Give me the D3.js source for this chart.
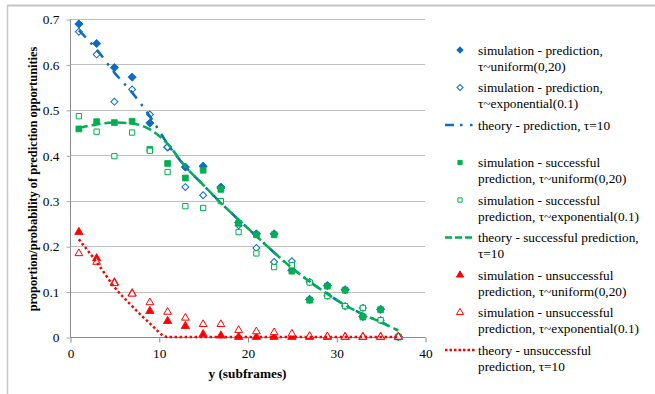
<!DOCTYPE html>
<html>
<head>
<meta charset="utf-8">
<script src="https://cdn.jsdelivr.net/npm/d3@7/dist/d3.min.js"></script>
<style>
  html, body { margin: 0; padding: 0; background: #fff; }
  svg { display: block; }
  text { font-family: "Liberation Serif", "Times New Roman", serif; fill: #000; }
</style>
</head>
<body>
<svg id="chart" width="655" height="394"></svg>
<script>
// Subframe positions where the simulations were sampled
const ySub = [1, 3, 5, 7, 9, 11, 13, 15, 17, 19, 21, 23, 25, 27, 29, 31, 33, 35, 37];

// Simulation results
const predUniform    = [0.689, 0.646, 0.593, 0.572, 0.471, 0.418, 0.374, 0.376, 0.330, 0.252, 0.227, 0.227, 0.147, 0.083, 0.113, 0.104, 0.045, 0.061, 0.001];
const predExp        = [0.672, 0.622, 0.518, 0.545, 0.490, 0.418, 0.330, 0.312, 0.327, 0.246, 0.196, 0.165, 0.167, 0.121, 0.091, 0.068, 0.064, 0.037, 0.001];
const succUniform    = [0.458, 0.474, 0.472, 0.475, 0.413, 0.382, 0.350, 0.367, 0.325, 0.250, 0.225, 0.225, 0.145, 0.081, 0.112, 0.103, 0.044, 0.060, 0.000];
const succExp        = [0.486, 0.452, 0.398, 0.450, 0.410, 0.363, 0.288, 0.284, 0.299, 0.231, 0.184, 0.154, 0.158, 0.120, 0.090, 0.068, 0.064, 0.037, 0.000];
const unsuccUniform  = [0.231, 0.173, 0.120, 0.096, 0.057, 0.035, 0.024, 0.006, 0.003, 0.000, 0.000, 0.000, 0.000, 0.000, 0.000, 0.000, 0.000, 0.000, 0.000];
const unsuccExp      = [0.184, 0.165, 0.118, 0.095, 0.076, 0.055, 0.042, 0.028, 0.028, 0.015, 0.012, 0.010, 0.007, 0.002, 0.001, 0.000, 0.000, 0.000, 0.000];

// Theoretical curves, tau = 10
const theoryPred     = [0.675, 0.633, 0.582, 0.538, 0.486, 0.425, 0.375, 0.335, 0.295, 0.258, 0.222, 0.186, 0.152, 0.122, 0.095, 0.070, 0.050, 0.033, 0.014];
const theorySucc     = [0.460, 0.468, 0.472, 0.470, 0.457, 0.425, 0.375, 0.335, 0.295, 0.258, 0.222, 0.186, 0.152, 0.122, 0.095, 0.070, 0.050, 0.033, 0.014];
const theoryUnsucc   = [0.215, 0.165, 0.110, 0.068, 0.030, 0.000, 0.000, 0.000, 0.000, 0.000, 0.000, 0.000, 0.000, 0.000, 0.000, 0.000, 0.000, 0.000, 0.000];

const xTicks = [0, 10, 20, 30, 40];
const yTicks = [0, 0.1, 0.2, 0.3, 0.4, 0.5, 0.6, 0.7];

const legendLabels = [
  ["simulation - prediction,", "\u03C4~uniform(0,20)"],
  ["simulation - prediction,", "\u03C4~exponential(0.1)"],
  ["theory - prediction, \u03C4=10"],
  ["simulation - successful", "prediction, \u03C4~uniform(0,20)"],
  ["simulation - successful", "prediction, \u03C4~exponential(0.1)"],
  ["theory - successful prediction,", "\u03C4=10"],
  ["simulation - unsuccessful", "prediction, \u03C4~uniform(0,20)"],
  ["simulation - unsuccessful", "prediction, \u03C4~exponential(0.1)"],
  ["theory - unsuccessful", "prediction, \u03C4=10"]
];

const BLUE = "#0a6cc4", GREEN = "#00b050", RED = "#ff0000";
const SERIF = "Liberation Serif, Times New Roman, serif";

const svg = d3.select("#chart");

// Outer chart frame (top and left edges)
svg.append("line").attr("x1", 7).attr("x2", 655).attr("y1", 5.5).attr("y2", 5.5)
  .attr("stroke", "#c4c4c4").attr("stroke-width", 2);
svg.append("line").attr("x1", 7.5).attr("x2", 7.5).attr("y1", 5).attr("y2", 394)
  .attr("stroke", "#c8c8c8").attr("stroke-width", 1.5);

const x = d3.scaleLinear().domain([0, 40]).range([70, 425]);
const y = d3.scaleLinear().domain([0, 0.7]).range([337, 19]);

// Horizontal gridlines
svg.append("g").selectAll("line").data(yTicks.filter(d => d > 0)).join("line")
  .attr("x1", x(0)).attr("x2", x(40))
  .attr("y1", d => Math.round(y(d)) + 0.5).attr("y2", d => Math.round(y(d)) + 0.5)
  .attr("stroke", "#bfbfbf").attr("stroke-width", 1);

// Y axis
const yAxis = svg.append("g").attr("transform", `translate(${x(0) + 0.5},0.5)`)
  .call(d3.axisLeft(y).tickValues(yTicks).tickSize(4).tickPadding(7)
    .tickFormat(d => d === 0 ? "0" : d3.format(".1f")(d)));
yAxis.select(".domain").attr("stroke", "#8c8c8c").attr("d", `M0,${y(0.7)}V${y(0)}`);
yAxis.selectAll(".tick line").attr("stroke", "#a6a6a6");
yAxis.selectAll(".tick text").attr("font-size", "13.33px")
  .attr("font-family", SERIF).attr("fill", "#000");

// X axis
const xAxis = svg.append("g").attr("transform", `translate(0.5,${y(0) + 0.5})`)
  .call(d3.axisBottom(x).tickValues(xTicks).tickSize(5).tickPadding(6));
xAxis.select(".domain").attr("stroke", "#8c8c8c").attr("d", `M${x(0)},0H${x(40)}`);
xAxis.selectAll(".tick line").attr("stroke", "#8c8c8c");
xAxis.selectAll(".tick text").attr("font-size", "13.33px")
  .attr("font-family", SERIF).attr("fill", "#000");

// Axis titles
svg.append("text").attr("x", (x(0) + x(40)) / 2).attr("y", 378)
  .attr("text-anchor", "middle").attr("font-size", "13.33px").attr("font-weight", "bold")
  .text("y (subframes)");
svg.append("text").attr("transform", `translate(37,${(y(0) + y(0.7)) / 2 + 1}) rotate(-90)`)
  .attr("text-anchor", "middle").attr("font-size", "12.4px").attr("font-weight", "bold")
  .text("proportion/probability of prediction opportunities");

// Marker drawing helpers
const shapes = {
  diamond: { type: d3.symbolSquare, rotate: 45 },
  square: { type: d3.symbolSquare, rotate: 0 },
  triangle: { type: d3.symbolTriangle, rotate: 0 }
};
function drawMarkers(values, shape, size, color, filled) {
  const s = shapes[shape];
  const pts = ySub.map((v, i) => ({ x: v, y: values[i] }));
  svg.append("g").selectAll("path").data(pts).join("path")
    .attr("d", d3.symbol().type(s.type).size(size)())
    .attr("transform", d => `translate(${x(d.x)},${y(d.y)}) rotate(${s.rotate})`)
    .attr("fill", filled ? color : "#fff")
    .attr("stroke", color).attr("stroke-width", filled ? 0.8 : 1);
}
const lineGen = d3.line().x(d => x(d.x)).y(d => y(d.y)).curve(d3.curveMonotoneX);
function drawTheory(values, color, dash, cap) {
  const pts = ySub.map((v, i) => ({ x: v, y: values[i] }));
  svg.append("path").datum(pts).attr("d", lineGen)
    .attr("fill", "none").attr("stroke", color).attr("stroke-width", 2.5)
    .attr("stroke-dasharray", dash).attr("stroke-linecap", cap || "butt");
}

// Prediction
drawMarkers(predUniform, "diamond", 34, BLUE, true);
drawMarkers(predExp, "diamond", 24, BLUE, false);
drawTheory(theoryPred, BLUE, "10,7,2.5,7");
// Successful prediction
drawMarkers(succUniform, "square", 34, GREEN, true);
drawMarkers(succExp, "square", 28, GREEN, false);
drawTheory(theorySucc, GREEN, "9,4");
// Unsuccessful prediction
drawMarkers(unsuccUniform, "triangle", 30, RED, true);
drawMarkers(unsuccExp, "triangle", 26, RED, false);
drawTheory(theoryUnsucc, RED, "2.5,2.5");

// Legend
const legendItems = [
  { kind: "marker", shape: "diamond", color: BLUE, filled: true },
  { kind: "marker", shape: "diamond", color: BLUE, filled: false },
  { kind: "line", color: BLUE, dash: "9,6,2.5,7.5,2.5,6" },
  { kind: "marker", shape: "square", color: GREEN, filled: true },
  { kind: "marker", shape: "square", color: GREEN, filled: false },
  { kind: "line", color: GREEN, dash: "7,3" },
  { kind: "marker", shape: "triangle", color: RED, filled: true },
  { kind: "marker", shape: "triangle", color: RED, filled: false },
  { kind: "line", color: RED, dash: "2.5,2" }
];
const legend = svg.append("g");
legendItems.forEach((item, i) => {
  const cy = 50 + i * 37.5;
  const g = legend.append("g");
  if (item.kind === "marker") {
    const s = shapes[item.shape];
    g.append("path").attr("d", d3.symbol().type(s.type).size(item.shape === "triangle" ? 22 : 18)())
      .attr("transform", `translate(460,${cy}) rotate(${s.rotate})`)
      .attr("fill", item.filled ? item.color : "#fff")
      .attr("stroke", item.color).attr("stroke-width", 1);
  } else {
    g.append("line").attr("x1", 445).attr("x2", 475).attr("y1", cy).attr("y2", cy)
      .attr("stroke", item.color).attr("stroke-width", 2.5)
      .attr("stroke-dasharray", item.dash);
  }
  const t = g.append("text").attr("x", 478).attr("y", cy + 4.5).attr("font-size", "13.33px");
  legendLabels[i].forEach((line, j) => {
    t.append("tspan").attr("x", 478).attr("dy", j === 0 ? 0 : 16).text(line);
  });
});
</script>
</body>
</html>
